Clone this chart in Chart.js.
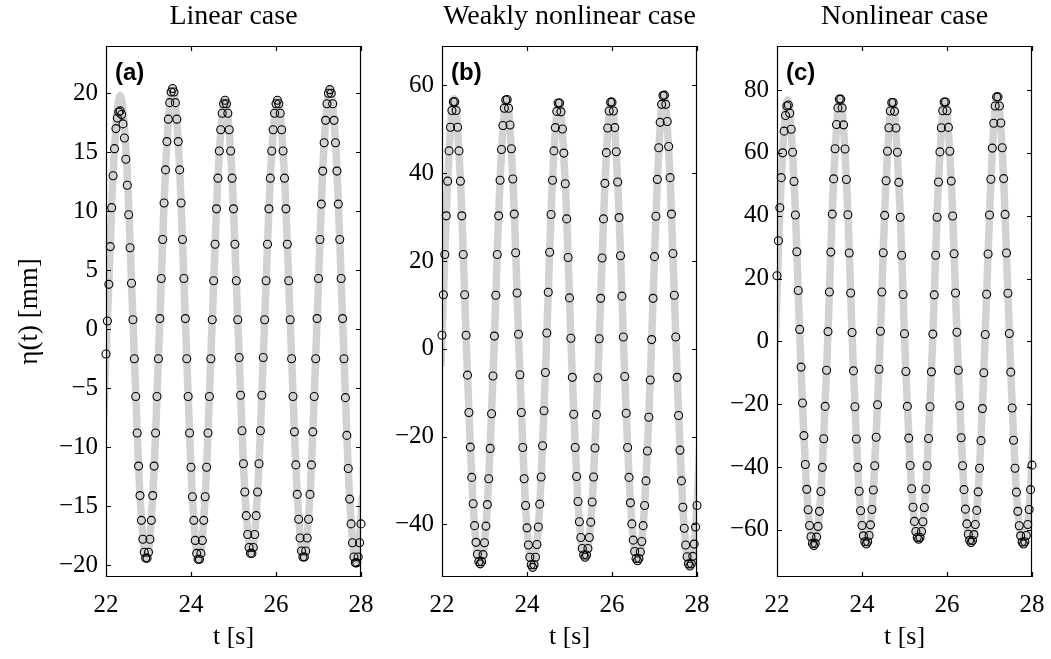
<!DOCTYPE html>
<html>
<head>
<meta charset="utf-8">
<script src="https://cdn.jsdelivr.net/npm/chart.js@4/dist/chart.umd.min.js"></script>
<style>
  html, body { margin: 0; padding: 0; background: #fff; overflow: hidden; }
  #wrap { position: relative; width: 1051px; height: 659px; overflow: hidden; background: #fff; }
  canvas { position: absolute; top: 0; }
</style>
</head>
<body>
<div id="wrap">
  <canvas id="panelA" width="479" height="659"></canvas>
  <canvas id="panelB" width="479" height="659"></canvas>
  <canvas id="panelC" width="479" height="659"></canvas>
</div>
<script>
// measured samples: t = 22 s + k / 30 s
const sampleStart = 22;
const sampleRate = 30;

const xTicks = [22, 24, 26, 28];
const yTicksA = [-20, -15, -10, -5, 0, 5, 10, 15, 20];
const yTicksB = [-40, -20, 0, 20, 40, 60];
const yTicksC = [-60, -40, -20, 0, 20, 40, 60, 80];

// (a) linear case, eta [mm]
const measA = [
  -2.1, 0.7, 3.8, 7.0, 10.3, 13.0, 15.3, 17.0, 17.9, 18.4,
  18.5, 18.2, 17.4, 16.2, 14.4, 12.2, 9.7, 6.9, 3.9, 0.8,
  -2.5, -5.7, -8.8, -11.6, -14.1, -16.2, -17.8, -18.9, -19.4,
  -19.4, -18.9, -17.8, -16.2, -14.1, -11.6, -8.8, -5.7, -2.5,
  0.9, 4.3, 7.6, 10.7, 13.5, 15.9, 17.8, 19.2, 20.1,
  20.4,
  20.1, 19.2, 17.8, 15.9, 13.5, 10.7, 7.6, 4.3, 0.9,
  -2.5, -5.7, -8.8, -11.7, -14.2, -16.2, -17.9, -19.0, -19.5,
  -19.5, -19.0, -17.9, -16.2, -14.2, -11.7, -8.8, -5.7, -2.5,
  0.8, 4.1, 7.2, 10.2, 12.8, 15.1, 16.9, 18.3, 19.1,
  19.4,
  19.1, 18.3, 16.9, 15.1, 12.8, 10.2, 7.2, 4.1, 0.8,
  -2.4, -5.6, -8.6, -11.4, -13.8, -15.8, -17.4, -18.5, -19.0,
  -19.0, -18.5, -17.4, -15.8, -13.8, -11.4, -8.6, -5.6, -2.4,
  0.8, 4.1, 7.2, 10.2, 12.8, 15.1, 16.9, 18.3, 19.1,
  19.4,
  19.1, 18.3, 16.9, 15.1, 12.8, 10.2, 7.2, 4.1, 0.8,
  -2.5, -5.7, -8.7, -11.5, -14.0, -16.1, -17.7, -18.8, -19.3,
  -19.3, -18.8, -17.7, -16.1, -14.0, -11.5, -8.7, -5.7, -2.5,
  0.9, 4.3, 7.6, 10.6, 13.4, 15.8, 17.7, 19.1, 20.0,
  20.3,
  20.0, 19.1, 17.7, 15.8, 13.4, 10.6, 7.6, 4.3, 0.9,
  -2.5, -5.8, -9.0, -11.8, -14.4, -16.5, -18.1, -19.3, -19.8,
  -19.8, -19.3, -18.1, -16.5
];

// (b) weakly nonlinear case
const measB = [
  3.1, 12.3, 21.5, 30.3, 38.2, 45.1, 50.5, 54.3, 56.3,
  56.3, 54.3, 50.5, 45.1, 38.2, 30.3, 21.5, 12.3, 3.1, -6.0, -14.5, -22.4, -29.3, -35.3, -40.3, -44.1, -46.8, -48.5, -49.0,
  -48.5, -46.9, -44.2, -40.4, -35.5, -29.6, -22.7, -14.8, -6.2, 2.9, 12.2, 21.5, 30.3, 38.4, 45.4, 50.9, 54.8, 56.7,
  56.8, 54.8, 51.0, 45.6, 38.7, 30.7, 21.9, 12.7, 3.3, -5.9, -14.5, -22.5, -29.6, -35.7, -40.8, -44.7, -47.5, -49.2, -49.8,
  -49.2, -47.5, -44.6, -40.6, -35.4, -29.2, -22.1, -14.1, -5.4, 3.6, 12.9, 22.0, 30.6, 38.4, 45.1, 50.4, 54.1, 56.0,
  56.0, 54.0, 50.1, 44.6, 37.6, 29.6, 20.8, 11.6, 2.4, -6.5, -14.9, -22.5, -29.1, -34.8, -39.4, -43.0, -45.5, -47.0, -47.5,
  -47.0, -45.5, -43.0, -39.5, -34.9, -29.2, -22.6, -15.0, -6.6, 2.3, 11.5, 20.7, 29.6, 37.7, 44.7, 50.3, 54.2, 56.2,
  56.2, 54.2, 50.4, 44.9, 38.0, 29.9, 21.2, 12.0, 2.7, -6.3, -14.7, -22.5, -29.3, -35.1, -39.9, -43.6, -46.2, -47.8, -48.3,
  -47.8, -46.3, -43.9, -40.3, -35.7, -30.1, -23.3, -15.6, -7.1, 2.1, 11.5, 21.0, 30.2, 38.6, 45.8, 51.6, 55.7, 57.7,
  57.8, 55.7, 51.8, 46.1, 39.0, 30.7, 21.7, 12.2, 2.7, -6.5, -15.2, -23.1, -30.1, -36.1, -40.9, -44.7, -47.4, -49.0, -49.5,
  -49.0, -47.3, -44.5, -40.6, -35.7
];

// (c) nonlinear case
const measC = [
  20.9, 32.0, 42.5, 52.1, 60.0, 66.9, 71.9, 74.9,
  75.2, 72.6, 67.5, 60.2, 50.9, 40.2, 28.5, 16.2, 3.8, -8.2, -19.6, -30.0, -39.2, -47.1, -53.6, -58.6, -62.2, -64.3, -65.0,
  -64.3, -62.3, -58.9, -54.1, -47.8, -40.1, -31.0, -20.7, -9.2, 3.1, 15.7, 28.4, 40.5, 51.7, 61.3, 69.0, 74.3, 77.1,
  77.1, 74.3, 68.9, 61.2, 51.5, 40.3, 28.1, 15.4, 2.8, -9.4, -20.8, -31.1, -40.1, -47.7, -53.9, -58.6, -61.9, -63.8, -64.5,
  -63.8, -61.8, -58.4, -53.5, -47.3, -39.6, -30.5, -20.2, -8.9, 3.2, 15.7, 28.2, 40.1, 51.1, 60.5, 68.0, 73.3, 76.0,
  76.0, 73.2, 67.9, 60.2, 50.6, 39.5, 27.4, 14.9, 2.4, -9.6, -20.7, -30.8, -39.5, -46.9, -52.8, -57.3, -60.5, -62.4, -63.0,
  -62.4, -60.5, -57.4, -52.9, -47.0, -39.6, -30.9, -20.8, -9.7, 2.3, 14.8, 27.4, 39.5, 50.7, 60.3, 68.0, 73.4, 76.2,
  76.2, 73.4, 68.1, 60.5, 51.0, 39.9, 27.9, 15.4, 2.9, -9.2, -20.5, -30.7, -39.6, -47.2, -53.4, -58.1, -61.4, -63.3, -64.0,
  -63.4, -61.5, -58.3, -53.8, -47.9, -40.4, -31.6, -21.4, -10.0, 2.2, 15.0, 27.8, 40.2, 51.6, 61.5, 69.4, 74.9, 77.8,
  77.8, 74.9, 69.5, 61.6, 51.8, 40.4, 28.1, 15.3, 2.5, -9.8, -21.2, -31.5, -40.4, -48.0, -54.1, -58.7, -61.9, -63.9, -64.5,
  -63.8, -61.8, -58.3, -53.5, -47.2, -39.4
];

// simulated curve, knots every eighth of a wave period
const simStep = 0.15417;
const simStartA = 21.717;
const simStartB = 21.667;
const simStartC = 21.633;

const simA = [
  -19.5, -13.8, 0, 14.0, 19.8, 14.0, 0, -13.8,
  -19.5, -13.8, 0, 14.4, 20.4, 14.4, 0, -13.9,
  -19.6, -13.9, 0, 13.7, 19.4, 13.7, 0, -13.5,
  -19.1, -13.5, 0, 13.7, 19.4, 13.7, 0, -13.7,
  -19.4, -13.7, 0, 14.4, 20.3, 14.4, 0, -14.1,
  -19.9, -14.1
];
const simB = [
  -49, -37.5, -4, 37.5, 57, 37.5, -4, -37.5,
  -49, -37.5, -4, 37.5, 57, 37.8, -3.6, -37.8,
  -49.8, -37.5, -3.2, 37.5, 56.2, 36.7, -4.4, -36.7,
  -47.5, -36.7, -4.5, 36.7, 56.4, 37.0, -4.1, -37.0,
  -48.3, -37.6, -4.9, 37.6, 58, 38.0, -4.3, -38.0,
  -49.5, -37.7, -3.8
];
const simC = [
  -64, -49.8, -6.4, 49.8, 76.8, 50.1, -5.9, -50.1,
  -65, -50.3, -6.2, 50.3, 77.4, 50.2, -6.5, -50.2,
  -64.5, -49.8, -5.9, 49.8, 76.3, 49.2, -6.7, -49.2,
  -63, -49.3, -6.8, 49.3, 76.5, 49.7, -6.3, -49.7,
  -64, -50.2, -7.1, 50.2, 78.1, 50.4, -6.8, -50.4,
  -64.5, -49.7, -5.8
];

const SERIF = '"Liberation Serif", "Times New Roman", serif';
const SANS = '"Liberation Sans", Arial, sans-serif';
const MINUS = '\u2212';
const SIDE = 112; // room left and right of each plot box inside its canvas

// box, inward ticks on all four sides, panel letter
const panelFrame = {
  id: 'panelFrame',
  afterDatasetsDraw(chart, args, opts) {
    const { ctx, chartArea: a, scales: { x, y } } = chart;
    const len = 5;
    ctx.save();
    ctx.strokeStyle = '#000';
    ctx.lineWidth = 1.2;
    ctx.beginPath();
    ctx.rect(a.left + 0.5, a.top + 0.5, a.right - a.left - 1, a.bottom - a.top - 1);
    x.ticks.forEach(t => {
      const px = Math.round(x.getPixelForValue(t.value)) + 0.5;
      ctx.moveTo(px, a.bottom);
      ctx.lineTo(px, a.bottom - len);
      ctx.moveTo(px, a.top);
      ctx.lineTo(px, a.top + len);
    });
    y.ticks.forEach(t => {
      const py = Math.round(y.getPixelForValue(t.value)) + 0.5;
      ctx.moveTo(a.left, py);
      ctx.lineTo(a.left + len, py);
      ctx.moveTo(a.right, py);
      ctx.lineTo(a.right - len, py);
    });
    ctx.stroke();
    ctx.fillStyle = '#000';
    ctx.font = 'bold 24px ' + SANS;
    ctx.textAlign = 'left';
    ctx.textBaseline = 'middle';
    ctx.fillText(opts.label, a.left + 9, a.top + 27);
    ctx.restore();
  }
};

function makePanel(id, cfg) {
  const canvas = document.getElementById(id);
  canvas.style.left = (cfg.left - SIDE) + 'px';

  const measPts = cfg.meas.map((v, k) => ({ x: sampleStart + k / sampleRate, y: v }));
  const simPts = cfg.sim.map((v, i) => ({ x: cfg.simStart + i * simStep, y: v }));
  const serif = { family: SERIF, size: 25, weight: 'normal' };
  const serifBig = { family: SERIF, size: 28, weight: 'normal' };

  return new Chart(canvas, {
    type: 'line',
    data: {
      datasets: [
        {
          data: measPts,
          showLine: false,
          pointRadius: 4,
          pointBorderWidth: 1.1,
          pointBorderColor: '#000',
          pointBackgroundColor: 'rgba(0,0,0,0)',
          clip: false
        },
        {
          data: simPts,
          borderColor: '#d2d2d2',
          borderWidth: 7.5,
          pointRadius: 0,
          cubicInterpolationMode: 'monotone',
          fill: false,
          clip: 0
        }
      ]
    },
    options: {
      responsive: false,
      animation: false,
      events: [],
      layout: { padding: 0 },
      plugins: {
        legend: { display: false },
        tooltip: { enabled: false },
        title: {
          display: true,
          text: cfg.title,
          color: '#000',
          font: serifBig,
          padding: { top: 0, bottom: 12.4 }
        },
        panelFrame: { label: cfg.label }
      },
      scales: {
        x: {
          type: 'linear',
          min: 22,
          max: 28,
          afterBuildTicks: s => { s.ticks = xTicks.map(v => ({ value: v })); },
          afterFit: s => { s.height = 82; },
          grid: { display: false, drawTicks: false },
          border: { display: false },
          ticks: { color: '#000', font: serif, padding: 13, maxRotation: 0, autoSkip: false },
          title: { display: true, text: 't [s]', color: '#000', font: { family: SERIF, size: 26, weight: 'normal' }, padding: { top: 0, bottom: 6 } }
        },
        y: {
          type: 'linear',
          min: cfg.yMin,
          max: cfg.yMax,
          afterBuildTicks: s => { s.ticks = cfg.yTicks.map(v => ({ value: v })); },
          afterFit: s => { s.width = SIDE; },
          grid: { display: false, drawTicks: false },
          border: { display: false },
          ticks: {
            color: '#000',
            font: serif,
            padding: 8,
            autoSkip: false,
            callback: v => String(v).replace('-', MINUS)
          },
          title: {
            display: !!cfg.yTitle,
            text: cfg.yTitle || '',
            color: '#000',
            font: { family: SERIF, size: 27, weight: 'normal' },
            padding: { top: 20, bottom: 0 }
          }
        },
        // empty right-hand axis keeps the plot box centred under the title
        yRight: {
          type: 'linear',
          position: 'right',
          display: true,
          afterFit: s => { s.width = SIDE; },
          grid: { display: false, drawTicks: false },
          border: { display: false },
          ticks: { display: false }
        }
      }
    },
    plugins: [panelFrame]
  });
}

makePanel('panelA', {
  left: 106, title: 'Linear case', label: '(a)', yTitle: 'η(t) [mm]',
  meas: measA, sim: simA, simStart: simStartA,
  yMin: -21, yMax: 24, yTicks: yTicksA
});
makePanel('panelB', {
  left: 442, title: 'Weakly nonlinear case', label: '(b)',
  meas: measB, sim: simB, simStart: simStartB,
  yMin: -52, yMax: 69, yTicks: yTicksB
});
makePanel('panelC', {
  left: 777, title: 'Nonlinear case', label: '(c)',
  meas: measC, sim: simC, simStart: simStartC,
  yMin: -75, yMax: 94, yTicks: yTicksC
});
</script>
</body>
</html>
